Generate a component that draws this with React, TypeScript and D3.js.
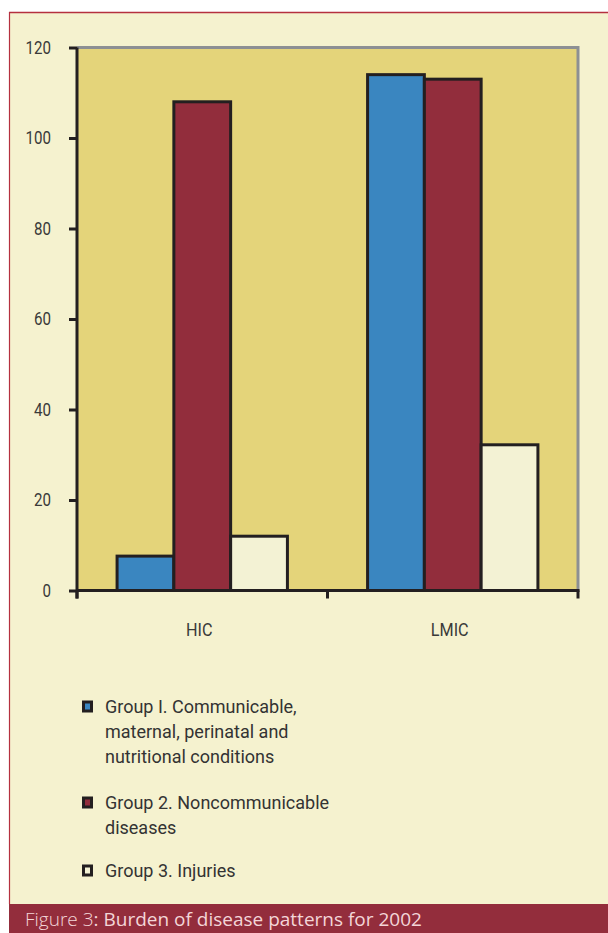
import React, { useEffect, useRef } from 'react';
import * as d3 from 'd3';

// Burden of disease patterns, 2002
const categories = ['HIC', 'LMIC'];
const groupNames = ['Group I', 'Group 2', 'Group 3'];
const group1 = [7.6, 114];
const group2 = [108, 113];
const group3 = [12, 32.2];
const yTicks = [0, 20, 40, 60, 80, 100, 120];

const legendLines = [
  ['Group I. Communicable,', 'maternal, perinatal and', 'nutritional conditions'],
  ['Group 2. Noncommunicable', 'diseases'],
  ['Group 3. Injuries'],
];
const caption = 'Burden of disease patterns for 2002';

const colors = ['#3a86c0', '#922d3c', '#f3f2d4'];
const W = 608;
const H = 933;

const App: React.FC = () => {
  const ref = useRef<SVGSVGElement | null>(null);

  useEffect(() => {
    if (!ref.current) return;
    const svg = d3.select(ref.current);
    svg.selectAll('*').remove();

    const font = 'Roboto, "DejaVu Sans", sans-serif';
    const ink = '#231f20';
    const textCol = '#3a3a3a';

    // page background + frame
    svg.append('rect').attr('x', 9).attr('y', 12).attr('width', W - 9).attr('height', 892)
      .attr('fill', '#f5f2cf');
    svg.append('line').attr('x1', 9).attr('x2', W).attr('y1', 12.5).attr('y2', 12.5)
      .attr('stroke', '#b5303f').attr('stroke-width', 1.5);
    svg.append('line').attr('x1', 9.5).attr('x2', 9.5).attr('y1', 12).attr('y2', 904)
      .attr('stroke', '#b5303f').attr('stroke-width', 1.2);

    const left = 77;
    const right = 578;
    const top = 47.5;
    const bottom = 590.5;

    const x0 = d3.scaleBand<string>().domain(categories).range([left, right]).padding(0);
    const bw = x0.bandwidth();
    const inset = bw * 0.16;
    const x1 = d3.scaleBand<number>().domain([0, 1, 2]).range([inset, bw - inset]).padding(0);
    const y = d3.scaleLinear().domain([0, 120]).range([bottom, top]);

    // plot area
    svg.append('rect').attr('x', left).attr('y', top).attr('width', right - left).attr('height', bottom - top)
      .attr('fill', '#e4d47a');
    svg.append('path')
      .attr('d', `M${left},${top}H${right}V${bottom}`)
      .attr('fill', 'none').attr('stroke', '#8d9093').attr('stroke-width', 3);

    // bars
    const series = [group1, group2, group3];
    const g = svg.append('g');
    categories.forEach((cat, ci) => {
      series.forEach((s, si) => {
        g.append('rect')
          .attr('x', (x0(cat) ?? 0) + (x1(si) ?? 0))
          .attr('y', y(s[ci]))
          .attr('width', x1.bandwidth())
          .attr('height', bottom - y(s[ci]))
          .attr('fill', colors[si])
          .attr('stroke', ink)
          .attr('stroke-width', 3)
          .attr('data-group', groupNames[si]);
      });
    });

    // y axis
    const ya = svg.append('g').attr('transform', `translate(${left},0)`)
      .call(d3.axisLeft(y).tickValues(yTicks).tickSize(8).tickSizeOuter(0).tickPadding(26));
    ya.select('.domain').attr('stroke', ink).attr('stroke-width', 3)
      .attr('d', `M0,${top}V${bottom + 8}`);
    ya.selectAll('.tick line').attr('stroke', ink).attr('stroke-width', 3);
    ya.selectAll<SVGTextElement, number>('.tick text')
      .attr('font-family', font).attr('font-size', 18).attr('fill', textCol)
      .attr('transform', 'translate(-26,0) scale(0.84,1)')
      .attr('x', 0);

    // x axis
    const xa = svg.append('g').attr('transform', `translate(0,${bottom})`);
    xa.append('line').attr('x1', left).attr('x2', right + 1.5).attr('y1', 0).attr('y2', 0)
      .attr('stroke', ink).attr('stroke-width', 3);
    const edges = [left, ...categories.map((c) => (x0(c) ?? 0) + bw)];
    edges.forEach((ex) => {
      xa.append('line').attr('x1', ex).attr('x2', ex).attr('y1', 0).attr('y2', 8)
        .attr('stroke', ink).attr('stroke-width', 3);
    });
    categories.forEach((c) => {
      xa.append('text')
        .attr('transform', `translate(${(x0(c) ?? 0) + bw / 2 - 3},45) scale(0.9,1)`)
        .attr('text-anchor', 'middle')
        .attr('font-family', font).attr('font-size', 18).attr('fill', textCol)
        .text(c);
    });

    // legend
    const lg = svg.append('g');
    const starts = [713, 809, 877];
    legendLines.forEach((lines, i) => {
      lg.append('rect').attr('x', 83.5).attr('y', starts[i] - 11).attr('width', 8).attr('height', 9)
        .attr('fill', colors[i]).attr('stroke', ink).attr('stroke-width', 3);
      lines.forEach((t, li) => {
        lg.append('text').attr('x', 105).attr('y', starts[i] + li * 25)
          .attr('font-family', font).attr('font-size', 18).attr('fill', '#333')
          .text(t);
      });
    });

    // caption band
    svg.append('rect').attr('x', 9).attr('y', 904).attr('width', W - 9).attr('height', H - 904)
      .attr('fill', '#932d3c');
    const cap = svg.append('text').attr('x', 25).attr('y', 926)
      .attr('font-family', '"Open Sans", sans-serif').attr('font-size', 19).attr('fill', '#f3d6d8');
    cap.append('tspan').attr('font-weight', 300).text('Figure 3');
    cap.append('tspan').text(': ' + caption);
  }, []);

  return (
    <svg
      ref={ref}
      width={W}
      height={H}
      style={{ position: 'absolute', left: 0, top: 0, background: '#fff' }}
    />
  );
};

export default App;
